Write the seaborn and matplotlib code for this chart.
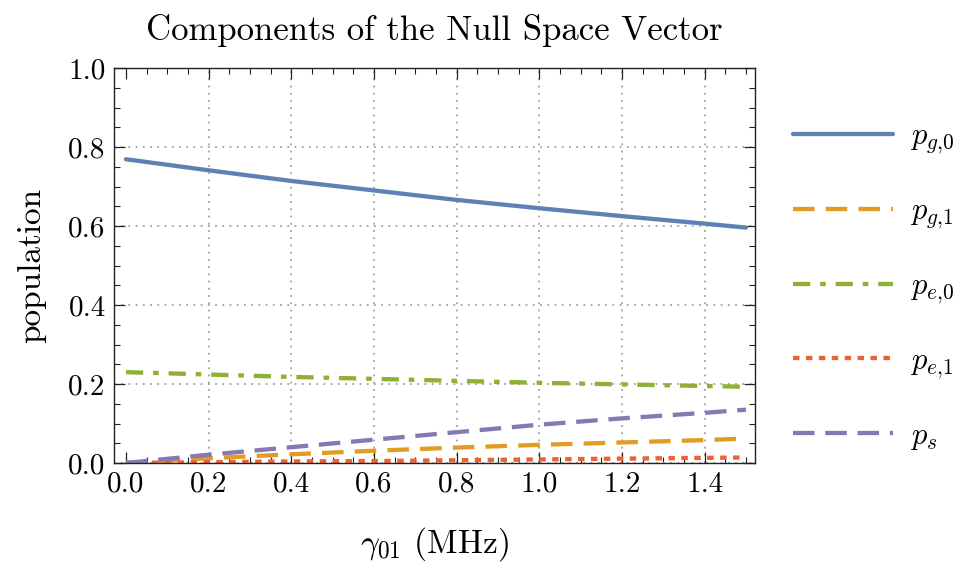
import numpy as np
import pandas as pd
import matplotlib
matplotlib.use("Agg")
import matplotlib.pyplot as plt
import seaborn as sns
from matplotlib.ticker import MultipleLocator

gamma = [0.0, 0.2, 0.4, 0.6, 0.8, 1.0, 1.2, 1.4, 1.5]
p_g0 = [0.769, 0.741, 0.714, 0.690, 0.666, 0.645, 0.625, 0.606, 0.596]
p_g1 = [0.0, 0.012, 0.022, 0.031, 0.039, 0.046, 0.052, 0.058, 0.062]
p_e0 = [0.230, 0.224, 0.218, 0.213, 0.208, 0.203, 0.199, 0.195, 0.193]
p_e1 = [0.0, 0.002, 0.004, 0.005, 0.007, 0.009, 0.011, 0.013, 0.014]
p_s = [0.0, 0.021, 0.040, 0.059, 0.078, 0.097, 0.113, 0.127, 0.135]

labels = [r"$p_{g{,}0}$", r"$p_{g{,}1}$", r"$p_{e{,}0}$", r"$p_{e{,}1}$", r"$p_s$"]
series = [p_g0, p_g1, p_e0, p_e1, p_s]
colors = ["#5e81b5", "#e19c24", "#8fb032", "#eb6235", "#8778b3"]
dashes = [None, (5.0, 2.6), (4.0, 2.3, 1.3, 2.3), (1.5, 1.5), (5.0, 2.5)]

sns.set_style("ticks")
plt.rcParams["font.family"] = ["cmr10", "DejaVu Serif"]
plt.rcParams["mathtext.fontset"] = "cm"
plt.rcParams["axes.unicode_minus"] = False
plt.rcParams["text.color"] = "black"
plt.rcParams["axes.labelcolor"] = "black"
plt.rcParams["xtick.color"] = "black"
plt.rcParams["ytick.color"] = "black"

fig = plt.figure(figsize=(9.66, 5.78), dpi=100)
ax = fig.add_axes([114/966, 1-463/578, (755-114)/966, (463-68)/578])

df = pd.DataFrame({"gamma": gamma})
lw = 3.1
handles = []
for lab, vals, c, d in zip(labels, series, colors, dashes):
    df[lab] = vals
    sns.lineplot(data=df, x="gamma", y=lab, ax=ax, color=c, lw=lw, label=lab, legend=False)
    line = ax.lines[-1]
    if d is not None:
        line.set_dashes(d)
    handles.append(line)

ax.set_xlim(-0.029, 1.522)
ax.set_ylim(0, 1.0)
ax.xaxis.set_minor_locator(MultipleLocator(0.05))
ax.yaxis.set_minor_locator(MultipleLocator(0.05))
xt = np.arange(0, 1.41, 0.2)
yt = np.arange(0, 1.01, 0.2)
ax.set_xticks(xt)
ax.set_xticklabels([f"{v:.1f}" for v in xt])
ax.set_yticks(yt)
ax.set_yticklabels([f"{v:.1f}" for v in yt])
ax.tick_params(which="both", direction="in", top=True, right=True, color="#222222")
ax.tick_params(which="major", length=8, width=0.9, labelsize=21, pad=6)
ax.tick_params(which="minor", length=4.5, width=0.8)
for s in ax.spines.values():
    s.set_color("#222222")
    s.set_linewidth(1.0)
ax.grid(True, which="major", linestyle=(0, (1, 3)), color="#a0a0a0", linewidth=1.3)
ax.set_axisbelow(True)
ax.get_xgridlines()[0].set_visible(False)

ax.set_title("Components of the Null Space Vector", fontsize=25, pad=20)
ax.set_xlabel(r"$\gamma_{01}$ (MHz)", fontsize=24, labelpad=20)
ax.set_ylabel("population", fontsize=24, labelpad=16)

fig.legend(handles=handles, labels=labels, loc="upper left",
           bbox_to_anchor=(793/966, 1-123/578), frameon=False,
           borderpad=0, borderaxespad=0,
           fontsize=22, handlelength=3.28, labelspacing=1.37, handletextpad=0.56)

fig.savefig("out.png", dpi=100)
